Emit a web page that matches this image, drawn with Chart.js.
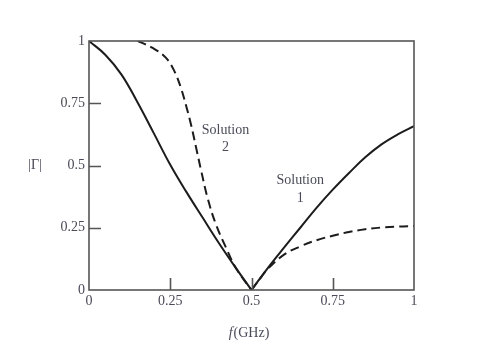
<!DOCTYPE html>
<html>
<head>
<meta charset="utf-8">
<script src="https://cdn.jsdelivr.net/npm/chart.js@4.4.1/dist/chart.umd.min.js"></script>
<style>
html,body{margin:0;padding:0;background:#fff;}
#wrap{width:482px;height:358px;}
</style>
</head>
<body>
<div id="wrap"><canvas id="c" width="482" height="358"></canvas></div>
<script>
// ---- data ----
const xTicks = [0, 0.25, 0.5, 0.75, 1];
const xTickLabels = ['0', '0.25', '0.5', '0.75', '1'];
const yTicks = [0, 0.25, 0.5, 0.75, 1];
const yTickLabels = ['0', '0.25', '0.5', '0.75', '1'];

// Solution 1 (solid)
const sol1LeftF  = [0, 0.05, 0.1, 0.15, 0.2, 0.25, 0.3, 0.35, 0.4, 0.45, 0.5];
const sol1LeftG  = [1.0, 0.945, 0.865, 0.752, 0.628, 0.503, 0.393, 0.29, 0.188, 0.092, 0];
const sol1RightF = [0.5, 0.55, 0.6, 0.65, 0.7, 0.75, 0.8, 0.85, 0.9, 0.95, 1.0];
const sol1RightG = [0, 0.088, 0.17, 0.25, 0.33, 0.403, 0.47, 0.533, 0.585, 0.625, 0.658];

// Solution 2 (dashed)
const sol2LeftF  = [0.15, 0.196, 0.237, 0.263, 0.283, 0.298, 0.314, 0.329, 0.345, 0.365, 0.391, 0.422, 0.452, 0.5];
const sol2LeftG  = [1.0, 0.972, 0.932, 0.878, 0.811, 0.744, 0.664, 0.575, 0.48, 0.369, 0.262, 0.169, 0.088, 0];
const sol2RightF = [0.5, 0.53, 0.55, 0.6, 0.65, 0.7, 0.75, 0.8, 0.85, 0.9, 0.95, 1.0];
const sol2RightG = [0, 0.052, 0.085, 0.142, 0.175, 0.2, 0.218, 0.233, 0.244, 0.251, 0.255, 0.257];

const xTitleItalic = 'f';
const xTitleRest = '(GHz)';
const yTitle = '|Γ|';
const notes = [
  {x: 0.42, y: 0.643, text: 'Solution'},
  {x: 0.42, y: 0.574, text: '2'},
  {x: 0.65, y: 0.442, text: 'Solution'},
  {x: 0.65, y: 0.369, text: '1'}
];

const pts = (xs, ys) => xs.map((x, i) => ({x: x, y: ys[i]}));
const TEXT = '#4a4a58';
const LINE = '#1c1c1c';
const AXIS = '#555555';
const FONT = '"Liberation Serif", "Times New Roman", serif';

const lineStyle = {
  borderColor: LINE, borderWidth: 2, pointRadius: 0, fill: false,
  tension: 0.4, showLine: true
};

const frame = {
  id: 'frame',
  afterDatasetsDraw(chart) {
    const {ctx, chartArea: a, scales: {x, y}} = chart;
    ctx.save();
    ctx.strokeStyle = AXIS;
    ctx.lineWidth = 1.6;
    ctx.strokeRect(a.left, a.top, a.right - a.left, a.bottom - a.top);
    ctx.beginPath();
    xTicks.slice(1, -1).forEach(v => {
      const px = Math.round(x.getPixelForValue(v)) + 0.5;
      ctx.moveTo(px, a.bottom); ctx.lineTo(px, a.bottom - 12);
    });
    yTicks.slice(1, -1).forEach(v => {
      const py = Math.round(y.getPixelForValue(v)) + 0.5;
      ctx.moveTo(a.left, py); ctx.lineTo(a.left + 12, py);
    });
    ctx.stroke();
    // annotations
    ctx.fillStyle = TEXT;
    ctx.font = '14px ' + FONT;
    ctx.textAlign = 'center';
    ctx.textBaseline = 'middle';
    notes.forEach(n => ctx.fillText(n.text, x.getPixelForValue(n.x), y.getPixelForValue(n.y)));
    // y title
    ctx.fillText(yTitle, a.left - 54, y.getPixelForValue(0.5));
    // x title with italic f
    const cx = x.getPixelForValue(0.5) - 3;
    const ty = a.bottom + 43;
    ctx.font = 'italic 14px ' + FONT;
    const w1 = ctx.measureText(xTitleItalic).width;
    ctx.font = '14px ' + FONT;
    const w2 = ctx.measureText(xTitleRest).width;
    const start = cx - (w1 + w2) / 2;
    ctx.textAlign = 'left';
    ctx.font = 'italic 14px ' + FONT;
    ctx.fillText(xTitleItalic, start, ty);
    ctx.font = '14px ' + FONT;
    ctx.fillText(xTitleRest, start + w1 + 1, ty);
    ctx.restore();
  }
};

new Chart(document.getElementById('c'), {
  type: 'scatter',
  data: {
    datasets: [
      Object.assign({data: pts(sol1LeftF, sol1LeftG)}, lineStyle),
      Object.assign({data: pts(sol1RightF, sol1RightG)}, lineStyle),
      Object.assign({data: pts(sol2LeftF, sol2LeftG), borderDash: [9, 5]}, lineStyle),
      Object.assign({data: pts(sol2RightF, sol2RightG), borderDash: [9, 5]}, lineStyle)
    ]
  },
  options: {
    responsive: false,
    animation: false,
    events: [],
    layout: {padding: {top: 41, right: 68, bottom: 0, left: 0}},
    plugins: {legend: {display: false}, tooltip: {enabled: false}},
    scales: {
      x: {
        type: 'linear', min: 0, max: 1,
        afterBuildTicks: s => { s.ticks = xTicks.map(v => ({value: v})); },
        afterFit: s => { s.height = 68; },
        grid: {display: false, drawTicks: false},
        border: {display: false},
        ticks: {
          padding: 3, color: TEXT, maxRotation: 0, autoSkip: false,
          font: {family: FONT, size: 14},
          callback: (v, i) => xTickLabels[i]
        }
      },
      y: {
        type: 'linear', min: 0, max: 1,
        afterBuildTicks: s => { s.ticks = yTicks.map(v => ({value: v})); },
        afterFit: s => { s.width = 89; },
        grid: {display: false, drawTicks: false},
        border: {display: false},
        ticks: {
          padding: 4, color: TEXT, autoSkip: false,
          font: {family: FONT, size: 14},
          callback: (v, i) => yTickLabels[i]
        }
      }
    }
  },
  plugins: [frame]
});
</script>
</body>
</html>
